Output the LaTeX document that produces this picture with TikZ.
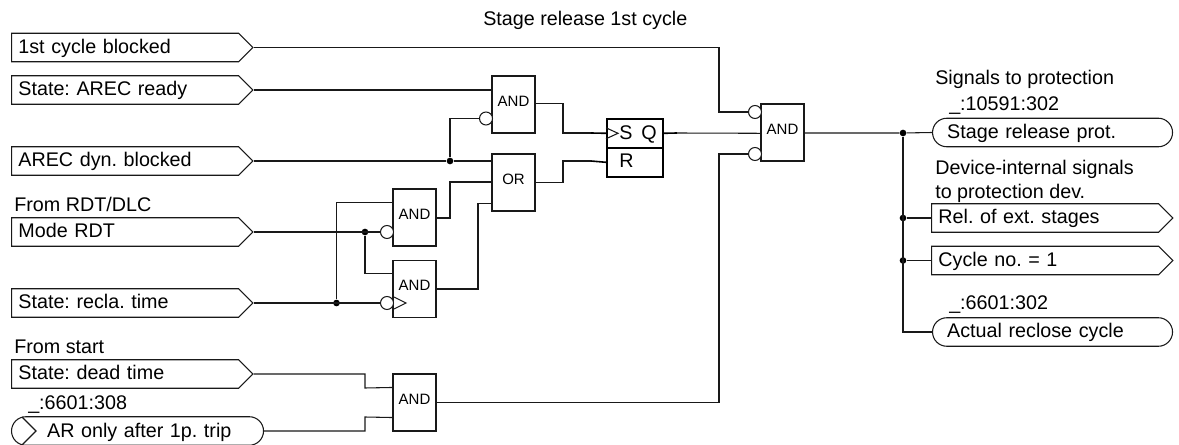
\documentclass[tikz,border=0pt]{standalone}
\usepackage{fontspec}
\setmainfont{Liberation Sans}
\usepackage{tikz}
\usetikzlibrary{shapes.symbols,shapes.misc,calc}
\frenchspacing
\tikzset{
  sigin/.style={signal, signal to=east, signal pointer angle=90, draw=black!90, line width=0.8pt, anchor=west, minimum height=21.4pt, minimum width=181pt, inner xsep=5pt, inner ysep=0pt, text height=10.5pt, text depth=1.5pt, text width=160pt, align=left, font=\fontsize{14.8}{16}\selectfont},
  sigout/.style={sigin, minimum width=181pt},
  pill/.style={rounded rectangle, draw=black!90, line width=0.8pt, anchor=west, minimum height=21.4pt, inner xsep=0pt, inner ysep=0pt, text height=10.5pt, text depth=1.5pt, align=left, font=\fontsize{14.8}{16}\selectfont},
  gate/.style={draw=black!90, line width=0.8pt, minimum width=32.25pt, minimum height=42.75pt, inner sep=0pt, text height=8pt, text depth=5pt, font=\fontsize{11.25}{13}\selectfont},
  srbox/.style={draw=black, line width=1.2pt, minimum width=42pt, minimum height=21.75pt, inner sep=0pt, anchor=north west},
  srtxt/.style={inner sep=0pt, anchor=base west, font=\fontsize{14.8}{16}\selectfont},
  neg/.style={circle, draw=black!90, line width=0.8pt, fill=white, minimum size=9.75pt, inner sep=0pt},
  dot/.style={circle, fill=black, minimum size=5pt, inner sep=0pt},
  txt/.style={anchor=base west, inner sep=0pt, font=\fontsize{14.8}{16}\selectfont},
  wire/.style={line width=0.8pt, draw=black!90},
  stub/.style={line width=1.2pt}
}
\begin{document}
\begin{tikzpicture}[x=0.75pt, y=-0.75pt]
  \useasboundingbox (0,0) rectangle (1179,445);
  \node[txt] (title) at (483,26) {Stage release 1st cycle};
  % inputs
  \node[sigin] (blk) at (11,47.5) {1st cycle blocked};
  \node[sigin] (rdy) at (11,90) {State: AREC ready};
  \node[sigin] (dyn) at (11,161) {AREC dyn. blocked};
  \node[txt] (rdt) at (14,212) {From RDT/DLC};
  \node[sigin] (mode) at (11,232) {Mode RDT};
  \node[sigin] (recl) at (11,303) {State: recla. time};
  \node[txt] (fst) at (14,354) {From start};
  \node[sigin] (dead) at (11,374) {State: dead time};
  \node[txt] (num308) at (28,410) {\_:6601:308};
  \node[pill, minimum width=189pt, text width=160pt] (only) at (11,431) {\hspace*{12.2pt}AR only after 1p. trip};
  \coordinate (onlyt) at ($(only.west)+(11,-14)$);
  \coordinate (onlyb) at ($(only.west)+(11,14)$);
  \coordinate (onlyc) at ($(only.west)+(25,0)$);
  \draw[wire] (onlyt) -- (onlyc) -- (onlyb);
  % gates
  \node[gate] (andA) at (513.5,104.5) {AND};
  \node[gate] (orB) at (513.5,182.5) {OR};
  \node[gate] (andC) at (414.5,217.5) {AND};
  \node[gate] (andD) at (414.5,289) {AND};
  \node[gate] (andE) at (414.5,402.5) {AND};
  \node[gate] (andF) at (782.5,132.5) {AND};
  \node[srbox] (srs) at (606,118) {};
  \node[srbox] (srr) at (606,147) {};
  \node[srtxt] (sets) at (619,140) {S};
  \node[srtxt] (setq) at (641,140) {Q};
  \node[srtxt] (setr) at (619,168) {R};
  \draw[wire] ($(srs.west)+(0,-5.5)$) -- ($(srs.west)+(12,0)$) -- ($(srs.west)+(0,5.5)$);
  % inverted inputs
  \node[neg] (nA) at (486,118.5) {};
  \node[neg] (nC) at (387,232) {};
  \node[neg] (nD) at (387,303) {};
  \node[neg] (nF1) at (755,112) {};
  \node[neg] (nF2) at (755,154) {};
  \draw[wire] ($(nD.east)+(0,-6)$) -- ($(nD.east)+(12,0)$) -- ($(nD.east)+(0,6)$);
  % junctions
  \node[dot] (jdyn) at (450,161) {};
  \node[dot] (jmode) at (365,232) {};
  \node[dot] (jrecl) at (336.5,303) {};
  \node[dot] (jq) at (903,133) {};
  \node[dot] (jrel) at (903,218) {};
  \node[dot] (jcyc) at (903,260.5) {};
  % outputs
  \node[txt] (sigp) at (935,85) {Signals to protection};
  \node[txt] (num591) at (949,111) {\_:10591:302};
  \node[pill, minimum width=180pt, text width=158pt] (rel) at (932,132.5) {Stage release prot.};
  \node[txt] (devi) at (935,175) {Device-internal signals};
  \node[txt] (devp) at (935,199) {to protection dev.};
  \node[sigout] (ext) at (931,218) {Rel. of ext. stages};
  \node[sigout] (cyc) at (931,260.5) {Cycle no. = 1};
  \node[txt] (num302) at (949,310) {\_:6601:302};
  \node[pill, minimum width=180pt, text width=158pt] (act) at (932,332) {Actual reclose cycle};
  % connectors
  \draw[wire] (blk.east) -| (719,112) -- (nF1.west);
  \draw[wire] (rdy.east) -- (rdy.east -| andA.west);
  \draw[wire] (dyn.east) -- (jdyn) -- (dyn.east -| orB.west);
  \draw[wire] (jdyn) |- (nA.west);
  \draw[wire] (mode.east) -- (nC.west);
  \draw[wire] (recl.east) -- (nD.west);
  \draw[wire] (jmode) |- ($(andD.north west)+(0,14)$);
  \draw[wire] (jrecl) |- ($(andC.north west)+(0,14.5)$);
  \draw[wire] ($(andC.east)+(0,0.5)$) -| (450,182) -- ($(orB.west)+(0,-0.5)$);
  \draw[wire] (andD.east) -| (478,203.7) -- (492,203.7);
  \draw[wire] ($(andA.north east)+(0,28)$) -| (563,133) -- (591,133);
  \draw[stub] (591,133) -- (srs.west);
  \draw[wire] (orB.east) -| (563,161) -- (591,161);
  \draw[stub] (591,161) -- (srr.west);
  \draw[stub] (srs.east) -- (677,133);
  \draw[wire] (677,133) -- (andF.west |- srs.east);
  \draw[wire] (dead.east) -| (365,388) -- ($(andE.north west)+(0,14)$);
  \draw[wire] (only.east) -| (365,417) -- ($(andE.south west)+(0,-14)$);
  \draw[wire] (andE.east) -| (719,154) -- (nF2.west);
  \draw[wire] (andF.east |- jq) -- (jq) -- (rel.west);
  \draw[wire] (jq) |- (act.west);
  \draw[wire] (jrel) -- (ext.west);
  \draw[wire] (jcyc) -- (cyc.west);
\end{tikzpicture}
\end{document}
